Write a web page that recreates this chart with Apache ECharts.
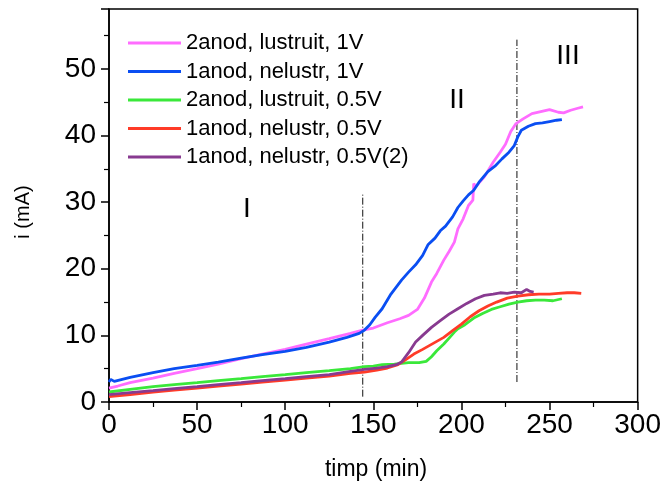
<!DOCTYPE html>
<html>
<head>
<meta charset="utf-8">
<script src="https://cdn.jsdelivr.net/npm/echarts@6/dist/echarts.min.js"></script>
<style>
html,body{margin:0;padding:0;background:#fff;}
#chart{width:664px;height:490px;}
</style>
</head>
<body>
<div id="chart"></div>
<script>
// ---- data (time in min, current in mA) ----
const seriesNames = [
  "2anod, lustruit, 1V",
  "1anod, nelustr, 1V",
  "2anod, lustruit, 0.5V",
  "1anod, nelustr, 0.5V",
  "1anod, nelustr, 0.5V(2)"
];

const pink2anod1V = [[0,2.1],[5,2.4],[12,2.9],[25,3.6],[37,4.3],[50,5.0],[62,5.7],[75,6.5],[87,7.2],[100,7.9],[112,8.7],[125,9.5],[137,10.3],[144,10.8],[150,11.1],[158,11.9],[165,12.5],[170,13.0],[175,13.9],[179,15.6],[183,18.0],[186,19.3],[190,21.3],[193,22.6],[196,24.0],[198,26.0],[201,27.5],[204,29.5],[206.5,30.3],[207,32.8],[208,32.3],[213,33.8],[218,36.0],[222,37.5],[225,38.7],[228,40.6],[231,41.8],[235,42.5],[240,43.3],[245,43.6],[250,43.9],[255,43.5],[258,43.4],[262,43.8],[266,44.1],[269,44.3]];

const blue1anod1V = [[0,3.0],[1,3.4],[3,3.1],[12,3.7],[25,4.4],[37,5.0],[50,5.5],[62,6.0],[75,6.6],[87,7.1],[100,7.6],[112,8.2],[125,9.0],[135,9.7],[142,10.3],[145,10.8],[148,11.6],[151,12.7],[155,14.0],[160,16.2],[166,18.3],[170,19.5],[174,20.6],[178,22.0],[181,23.6],[185,24.6],[188,25.7],[191,26.4],[195,27.8],[198,29.2],[201,30.2],[204,31.1],[207,31.8],[210,33.0],[215,34.6],[219,35.4],[223,36.5],[227,37.5],[230,38.5],[232,39.8],[234,40.8],[238,41.4],[242,41.8],[246,41.9],[250,42.1],[254,42.3],[257,42.4]];

const green2anod05V = [[0,1.5],[12,1.9],[25,2.3],[37,2.6],[50,2.9],[62,3.2],[75,3.5],[87,3.8],[100,4.1],[112,4.4],[125,4.7],[137,5.0],[145,5.3],[150,5.4],[155,5.6],[162,5.7],[170,5.9],[176,5.9],[180,6.1],[183,6.8],[186,7.7],[190,8.7],[193,9.6],[196,10.5],[198,11.0],[202,11.6],[207,12.6],[212,13.3],[217,13.9],[222,14.3],[227,14.7],[232,15.0],[237,15.2],[242,15.3],[247,15.3],[252,15.2],[257,15.5]];

const red1anod05V = [[0,0.8],[12,1.1],[25,1.5],[37,1.8],[50,2.1],[62,2.4],[75,2.7],[87,3.0],[100,3.3],[112,3.6],[125,3.9],[137,4.3],[145,4.5],[152,4.8],[158,5.1],[164,5.6],[168,6.3],[173,7.2],[178,7.9],[184,8.8],[190,9.7],[195,10.7],[200,11.7],[205,12.8],[210,13.7],[215,14.4],[220,15.0],[226,15.6],[232,15.9],[238,16.1],[244,16.2],[250,16.2],[255,16.3],[260,16.4],[264,16.4],[268,16.3]];

const purple1anod05V2 = [[0,1.1],[12,1.4],[25,1.7],[37,2.0],[50,2.3],[62,2.6],[75,2.9],[87,3.2],[100,3.5],[112,3.8],[125,4.1],[137,4.6],[145,4.9],[152,5.1],[158,5.3],[163,5.6],[166,6.0],[170,7.4],[174,9.0],[178,10.0],[183,11.2],[188,12.2],[193,13.2],[198,14.0],[203,14.8],[208,15.5],[213,16.0],[218,16.2],[222,16.4],[226,16.3],[230,16.5],[234,16.4],[237,16.9],[239,16.6],[241,16.5]];

// region boundaries (dash-dot lines)
const boundary1 = [[144,0.8],[144,31.3]];
const boundary2 = [[231.5,3.0],[231.5,54.4]];

// tick settings
const xMin = 0, xMax = 300, xStep = 50;
const yMin = 0, yMax = 59, yStep = 10;

const colors = ['#ff6cff','#0a4ef2','#3ae83a','#ff3b28','#883a90'];
const seriesData = [pink2anod1V, blue1anod1V, green2anod05V, red1anod05V, purple1anod05V2];

const FONT = "'Liberation Sans', Arial, sans-serif";

const chart = echarts.init(document.getElementById('chart'), null, {renderer:'canvas'});

const series = seriesData.map((d,i)=>({
  name: seriesNames[i],
  type: 'line',
  data: d,
  showSymbol: false,
  symbol: 'none',
  smooth: false,
  lineStyle: {color: colors[i], width: 2.8},
  itemStyle: {color: colors[i]},
  z: 3 + i
}));
[boundary1, boundary2].forEach(b=>{
  series.push({
    type:'line', data:b, symbol:'none', silent:true, z:2,
    lineStyle:{color:'#111', width:1, type:[7,2,1,2]}
  });
});

chart.setOption({
  animation: false,
  backgroundColor: '#fff',
  grid: {left:109, right:23, top:9, bottom:88, show:true, borderColor:'#000', borderWidth:1.5, backgroundColor:'transparent'},
  legend: {
    data: seriesNames,
    orient:'vertical', left:123, top:27,
    itemWidth:53, itemHeight:3, itemGap:6.5, icon:'rect',
    textStyle:{fontFamily:FONT, fontSize:22, color:'#000'}
  },
  xAxis: {
    type:'value', min:xMin, max:xMax, interval:xStep,
    axisLine:{show:true, onZero:false, lineStyle:{color:'#000', width:1.5}},
    axisTick:{show:true, inside:false, length:8, lineStyle:{color:'#000', width:1.5}},
    minorTick:{show:true, splitNumber:2, length:5, lineStyle:{color:'#000', width:1.2}},
    splitLine:{show:false},
    axisLabel:{fontFamily:FONT, fontSize:28, color:'#000', margin:9}
  },
  yAxis: {
    type:'value', min:yMin, max:yMax, interval:yStep,
    axisLine:{show:true, onZero:false, lineStyle:{color:'#000', width:1.5}},
    axisTick:{show:true, inside:false, length:8, lineStyle:{color:'#000', width:1.5}},
    minorTick:{show:true, splitNumber:2, length:5, lineStyle:{color:'#000', width:1.2}},
    splitLine:{show:false},
    axisLabel:{fontFamily:FONT, fontSize:28, color:'#000', margin:13,
      formatter: v => (v % yStep === 0 ? String(v) : '')}
  },
  graphic: [
    {type:'text', x:23, y:212, rotation:Math.PI/2,
      style:{text:'i (mA)', font:"20px "+FONT, fill:'#000', textAlign:'center', textVerticalAlign:'middle'}},
    {type:'text', x:376, y:470,
      style:{text:'timp (min)', font:"23px "+FONT, fill:'#000', textAlign:'center', textVerticalAlign:'middle'}},
    {type:'text', x:247, y:209,
      style:{text:'I', font:"28px "+FONT, fill:'#000', textAlign:'center', textVerticalAlign:'middle'}},
    {type:'text', x:457, y:100,
      style:{text:'II', font:"28px "+FONT, fill:'#000', textAlign:'center', textVerticalAlign:'middle'}},
    {type:'text', x:568, y:56,
      style:{text:'III', font:"28px "+FONT, fill:'#000', textAlign:'center', textVerticalAlign:'middle'}}
  ],
  series: series
});
</script>
</body>
</html>
